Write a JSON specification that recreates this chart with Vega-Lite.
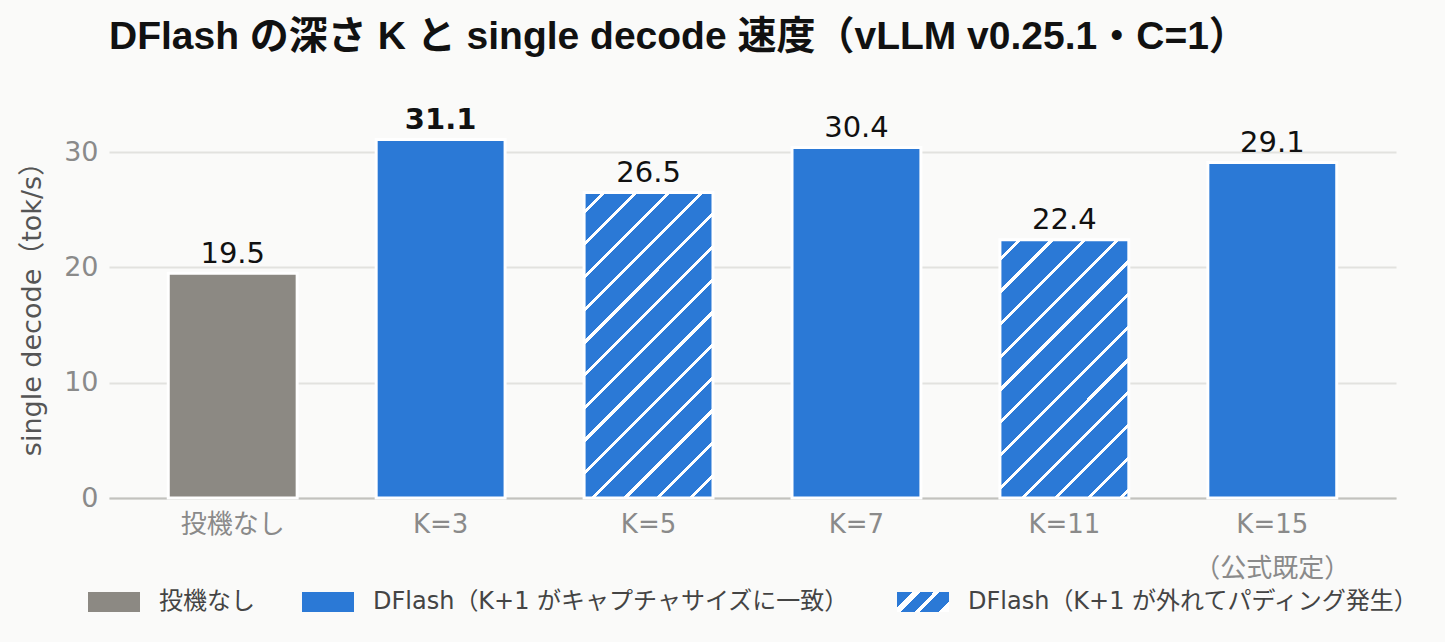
{
  "$schema": "https://vega.github.io/schema/vega-lite/v6.json",
  "autosize": "none",
  "width": 1287,
  "height": 392,
  "padding": {"left": 109, "top": 106, "right": 49, "bottom": 144},
  "background": "#fafaf9",
  "config": {
    "font": "DejaVu Sans, Noto Sans CJK JP, sans-serif",
    "view": {"stroke": null}
  },
  "title": {
    "text": "DFlash の深さ K と single decode 速度（vLLM v0.25.1・C=1）",
    "anchor": "start",
    "frame": "group",
    "font": "Liberation Sans, Noto Sans CJK JP, sans-serif",
    "fontSize": 39,
    "fontWeight": "bold",
    "color": "#111111",
    "baseline": "alphabetic",
    "offset": 18
  },
  "data": {
    "values": [
      {"k": "投機なし", "speed": 19.5, "series": "投機なし"},
      {"k": "K=3", "speed": 31.1, "series": "DFlash（K+1 がキャプチャサイズに一致）"},
      {"k": "K=5", "speed": 26.5, "series": "DFlash（K+1 が外れてパディング発生）"},
      {"k": "K=7", "speed": 30.4, "series": "DFlash（K+1 がキャプチャサイズに一致）"},
      {"k": "K=11", "speed": 22.4, "series": "DFlash（K+1 が外れてパディング発生）"},
      {"k": "K=15", "speed": 29.1, "series": "DFlash（K+1 がキャプチャサイズに一致）"}
    ]
  },
  "encoding": {
    "x": {
      "field": "k",
      "type": "nominal",
      "sort": null,
      "scale": {"paddingInner": 0.38, "paddingOuter": 0.285},
      "axis": {
        "title": null,
        "labelAngle": 0,
        "labelExpr": "datum.value == 'K=15' ? ['K=15', '（公式既定）'] : datum.value",
        "labelFontSize": 26,
        "labelColor": "#8a8a8a",
        "labelPadding": 13,
        "labelLineHeight": 44,
        "ticks": false,
        "domain": true,
        "domainColor": "#c2c2be",
        "domainWidth": 2,
        "grid": false
      }
    },
    "y": {
      "field": "speed",
      "type": "quantitative",
      "scale": {"domain": [0, 34], "nice": false},
      "axis": {
        "title": "single decode（tok/s）",
        "titleFontSize": 27,
        "titleFontWeight": "normal",
        "titleColor": "#555555",
        "titlePadding": 17,
        "values": [0, 10, 20, 30],
        "labelFontSize": 27,
        "labelColor": "#8a8a8a",
        "labelPadding": 11,
        "ticks": false,
        "domain": false,
        "grid": true,
        "gridColor": "#e2e2df",
        "gridWidth": 2
      }
    }
  },
  "layer": [
    {
      "mark": {"type": "bar", "stroke": "#ffffff", "strokeWidth": 3},
      "encoding": {
        "fill": {
          "condition": [
            {
              "test": "datum.k == 'K=5'",
              "value": {
                "gradient": "linear", "x1": 0, "y1": 0, "x2": 0.51116, "y2": 1.21093,
                "stops": [
                  {"offset": 0, "color": "#2b79d6"},
                  {"offset": 0.0402, "color": "#2b79d6"}, {"offset": 0.0402, "color": "#ffffff"}, {"offset": 0.0498, "color": "#ffffff"}, {"offset": 0.0498, "color": "#2b79d6"},
                  {"offset": 0.1152, "color": "#2b79d6"}, {"offset": 0.1152, "color": "#ffffff"}, {"offset": 0.1248, "color": "#ffffff"}, {"offset": 0.1248, "color": "#2b79d6"},
                  {"offset": 0.1902, "color": "#2b79d6"}, {"offset": 0.1902, "color": "#ffffff"}, {"offset": 0.1998, "color": "#ffffff"}, {"offset": 0.1998, "color": "#2b79d6"},
                  {"offset": 0.2652, "color": "#2b79d6"}, {"offset": 0.2652, "color": "#ffffff"}, {"offset": 0.2748, "color": "#ffffff"}, {"offset": 0.2748, "color": "#2b79d6"},
                  {"offset": 0.3402, "color": "#2b79d6"}, {"offset": 0.3402, "color": "#ffffff"}, {"offset": 0.3498, "color": "#ffffff"}, {"offset": 0.3498, "color": "#2b79d6"},
                  {"offset": 0.4152, "color": "#2b79d6"}, {"offset": 0.4152, "color": "#ffffff"}, {"offset": 0.4248, "color": "#ffffff"}, {"offset": 0.4248, "color": "#2b79d6"},
                  {"offset": 0.4902, "color": "#2b79d6"}, {"offset": 0.4902, "color": "#ffffff"}, {"offset": 0.4998, "color": "#ffffff"}, {"offset": 0.4998, "color": "#2b79d6"},
                  {"offset": 0.5652, "color": "#2b79d6"}, {"offset": 0.5652, "color": "#ffffff"}, {"offset": 0.5748, "color": "#ffffff"}, {"offset": 0.5748, "color": "#2b79d6"},
                  {"offset": 0.6402, "color": "#2b79d6"}, {"offset": 0.6402, "color": "#ffffff"}, {"offset": 0.6498, "color": "#ffffff"}, {"offset": 0.6498, "color": "#2b79d6"},
                  {"offset": 0.7152, "color": "#2b79d6"}, {"offset": 0.7152, "color": "#ffffff"}, {"offset": 0.7248, "color": "#ffffff"}, {"offset": 0.7248, "color": "#2b79d6"},
                  {"offset": 0.7902, "color": "#2b79d6"}, {"offset": 0.7902, "color": "#ffffff"}, {"offset": 0.7998, "color": "#ffffff"}, {"offset": 0.7998, "color": "#2b79d6"},
                  {"offset": 0.8652, "color": "#2b79d6"}, {"offset": 0.8652, "color": "#ffffff"}, {"offset": 0.8748, "color": "#ffffff"}, {"offset": 0.8748, "color": "#2b79d6"},
                  {"offset": 0.9402, "color": "#2b79d6"}, {"offset": 0.9402, "color": "#ffffff"}, {"offset": 0.9498, "color": "#ffffff"}, {"offset": 0.9498, "color": "#2b79d6"},
                  {"offset": 1, "color": "#2b79d6"}
                ]
              }
            },
            {
              "test": "datum.k == 'K=11'",
              "value": {
                "gradient": "linear", "x1": 0, "y1": 0, "x2": 0.67471, "y2": 1.35099,
                "stops": [
                  {"offset": 0, "color": "#2b79d6"},
                  {"offset": 0.0402, "color": "#2b79d6"}, {"offset": 0.0402, "color": "#ffffff"}, {"offset": 0.0498, "color": "#ffffff"}, {"offset": 0.0498, "color": "#2b79d6"},
                  {"offset": 0.1152, "color": "#2b79d6"}, {"offset": 0.1152, "color": "#ffffff"}, {"offset": 0.1248, "color": "#ffffff"}, {"offset": 0.1248, "color": "#2b79d6"},
                  {"offset": 0.1902, "color": "#2b79d6"}, {"offset": 0.1902, "color": "#ffffff"}, {"offset": 0.1998, "color": "#ffffff"}, {"offset": 0.1998, "color": "#2b79d6"},
                  {"offset": 0.2652, "color": "#2b79d6"}, {"offset": 0.2652, "color": "#ffffff"}, {"offset": 0.2748, "color": "#ffffff"}, {"offset": 0.2748, "color": "#2b79d6"},
                  {"offset": 0.3402, "color": "#2b79d6"}, {"offset": 0.3402, "color": "#ffffff"}, {"offset": 0.3498, "color": "#ffffff"}, {"offset": 0.3498, "color": "#2b79d6"},
                  {"offset": 0.4152, "color": "#2b79d6"}, {"offset": 0.4152, "color": "#ffffff"}, {"offset": 0.4248, "color": "#ffffff"}, {"offset": 0.4248, "color": "#2b79d6"},
                  {"offset": 0.4902, "color": "#2b79d6"}, {"offset": 0.4902, "color": "#ffffff"}, {"offset": 0.4998, "color": "#ffffff"}, {"offset": 0.4998, "color": "#2b79d6"},
                  {"offset": 0.5652, "color": "#2b79d6"}, {"offset": 0.5652, "color": "#ffffff"}, {"offset": 0.5748, "color": "#ffffff"}, {"offset": 0.5748, "color": "#2b79d6"},
                  {"offset": 0.6402, "color": "#2b79d6"}, {"offset": 0.6402, "color": "#ffffff"}, {"offset": 0.6498, "color": "#ffffff"}, {"offset": 0.6498, "color": "#2b79d6"},
                  {"offset": 0.7152, "color": "#2b79d6"}, {"offset": 0.7152, "color": "#ffffff"}, {"offset": 0.7248, "color": "#ffffff"}, {"offset": 0.7248, "color": "#2b79d6"},
                  {"offset": 0.7902, "color": "#2b79d6"}, {"offset": 0.7902, "color": "#ffffff"}, {"offset": 0.7998, "color": "#ffffff"}, {"offset": 0.7998, "color": "#2b79d6"},
                  {"offset": 0.8652, "color": "#2b79d6"}, {"offset": 0.8652, "color": "#ffffff"}, {"offset": 0.8748, "color": "#ffffff"}, {"offset": 0.8748, "color": "#2b79d6"},
                  {"offset": 0.9402, "color": "#2b79d6"}, {"offset": 0.9402, "color": "#ffffff"}, {"offset": 0.9498, "color": "#ffffff"}, {"offset": 0.9498, "color": "#2b79d6"},
                  {"offset": 1, "color": "#2b79d6"}
                ]
              }
            }
          ],
          "field": "series",
          "type": "nominal",
          "scale": {
            "domain": ["投機なし", "DFlash（K+1 がキャプチャサイズに一致）", "DFlash（K+1 が外れてパディング発生）"],
            "range": [
              "#8c8983",
              "#2b79d6",
              {"expr": "{gradient: 'linear', x1: 0, y1: 0, x2: 1.2062, y2: 0.4639, stops: [{offset: 0, color: '#2b79d6'}, {offset: 0.222, color: '#2b79d6'}, {offset: 0.222, color: '#ffffff'}, {offset: 0.333, color: '#ffffff'}, {offset: 0.333, color: '#2b79d6'}, {offset: 0.514, color: '#2b79d6'}, {offset: 0.514, color: '#ffffff'}, {offset: 0.597, color: '#ffffff'}, {offset: 0.597, color: '#2b79d6'}, {offset: 0.86, color: '#2b79d6'}, {offset: 0.86, color: '#ffffff'}, {offset: 1, color: '#ffffff'}]}"}
            ]
          },
          "legend": {
            "title": null,
            "orient": "none",
            "direction": "horizontal",
            "legendX": -21,
            "legendY": 470,
            "symbolType": "M-1,-0.385H1V0.385H-1Z",
            "symbolSize": 2704,
            "symbolStrokeWidth": 0,
            "labelFontSize": 24,
            "labelColor": "#444444",
            "labelOffset": 19,
            "columnPadding": 47,
            "labelLimit": 0
          }
        }
      }
    },
    {
      "mark": {
        "type": "text",
        "baseline": "alphabetic",
        "dy": -10.5,
        "fontSize": 29,
        "color": "#111111",
        "fontWeight": {"expr": "datum.k == 'K=3' ? 'bold' : 'normal'"}
      },
      "encoding": {
        "text": {"field": "speed", "type": "quantitative", "format": ".1f"}
      }
    }
  ]
}
